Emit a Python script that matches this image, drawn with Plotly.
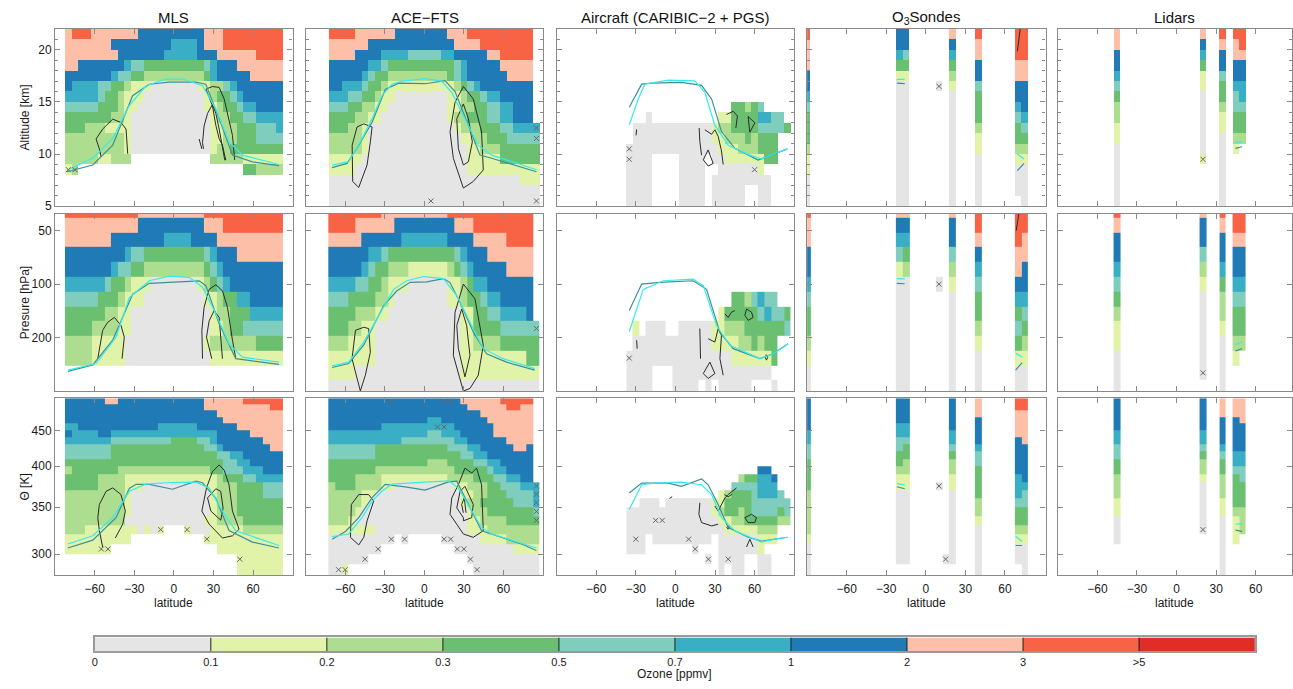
import math
import plotly.graph_objects as go

# ---------------- colour levels ----------------
LEVEL_COLORS = ["#e5e5e5", "#e0f3a8", "#addd8e", "#6abf70", "#7fcdbc",
                "#3aaec4", "#1f7ab5", "#fdbfa7", "#f86245", "#e02d26"]
LEVEL_LABELS = ["0", "0.1", "0.2", "0.3", "0.5", "0.7", "1", "2", "3", ">5"]

# ---------------- grids ----------------
LAT_CENTERS = [-90, -85, -80, -75, -70, -65, -60, -55, -50, -45, -40, -35, -30, -25, -20, -15, -10, -5,
               0, 5, 10, 15, 20, 25, 30, 35, 40, 45, 50, 55, 60, 65, 70, 75, 80, 85, 90]
ALT_EDGES = [5, 6, 7, 8, 9, 10, 11, 12, 13, 14, 15, 16, 17, 18, 19, 20, 21, 22]
THETA_EDGES = [280, 290, 300, 310, 320, 330, 340, 350, 360, 370, 380, 390, 400,
               410, 420, 430, 440, 450, 460, 470, 480, 490, 500]
P_CENTERS = [38.3, 46.4, 56.2, 68.1, 82.5, 100.0, 121.2, 146.8, 177.8, 215.4, 261.0, 316.2, 383.1]

# Run-length rows (top -> bottom): token = level char + count, '.' = no data, 37 lat cells
MLS_ALT = [
    ".2 71 83 77 610 73 89 .2", ".2 77 69 54 61 73 89 .2", ".2 78 67 55 63 76 84 .2",
    ".2 72 67 51 42 39 41 51 63 77 .2", ".2 67 51 42 32 29 31 51 65 75 .2",
    ".2 61 54 42 32 21 13 07 12 22 41 51 67 .2", ".2 55 41 32 21 13 09 11 21 32 41 51 66 .2",
    ".2 45 33 21 12 010 12 21 32 41 52 64 .2", ".2 37 22 11 012 11 22 32 42 54 .2",
    ".2 33 23 14 012 12 22 33 43 51 .2", ".2 29 11 012 12 22 33 44 .2",
    ".2 29 11 012 11 22 38 .2", ".2 25 12 23 .12 25 16 .2", ".2 11 21 .25 32 24 .2",
    ".37", ".37", ".37",
]
MLS_P = [
    ".2 811 710 812 .2", ".2 711 610 73 89 .2", ".2 77 68 54 64 710 .2",
    ".2 69 51 42 39 41 51 63 77 .2", ".2 67 51 42 32 29 31 41 51 69 .2",
    ".2 56 41 32 21 13 07 11 21 31 41 51 68 .2", ".2 45 33 21 13 09 12 21 32 52 65 .2",
    ".2 36 22 12 012 11 22 33 55 .2", ".2 34 24 12 012 12 21 32 46 .2",
    ".2 24 15 012 11 27 34 .2", ".2 24 15 013 111 .2", ".37", ".37",
]
MLS_TH = [
    ".2 66 72 613 76 86 .2", ".2 621 710 82 .2", ".2 623 710 .2", ".2 624 79 .2",
    ".2 52 612 56 66 77 .2", ".2 61 54 62 516 65 75 .2", ".2 57 49 34 42 51 67 73 .2",
    ".2 47 314 42 51 67 72 .2", ".2 47 316 42 52 66 .2", ".2 324 42 52 65 .2",
    ".2 21 37 214 32 43 53 63 .2", ".2 35 24 114 21 33 42 54 .2",
    ".2 35 24 13 09 12 23 34 43 .2", ".2 29 11 012 11 23 34 43 .2",
    ".2 29 11 012 11 23 37 .2", ".2 29 11 012 11 23 37 .2", ".2 29 012 12 24 36 .2",
    ".2 23 18 01 11 01 11 .3 11 03 15 26 .2", ".2 110 .11 112 .2", ".2 17 .16 110 .2",
    ".2 .26 17 .2", ".2 .26 17 .2",
]
ACE_ALT = [
    ".4 84 76 68 73 810 .2", ".4 76 613 74 88 .2", ".4 74 64 54 45 52 65 72 85 .2",
    ".4 66 52 41 310 41 51 65 75 .2", ".4 65 51 41 32 29 31 41 51 66 74 .2",
    ".4 62 53 41 32 21 19 11 21 31 41 51 68 .2", ".4 53 42 32 21 12 08 12 21 32 41 52 65 .2",
    ".4 43 32 22 12 09 12 22 32 42 52 63 .2", ".4 34 22 12 010 11 22 33 42 52 63 .2",
    ".4 33 22 11 013 11 23 33 42 53 51 .1", ".4 25 11 014 12 22 33 45 .1",
    ".4 25 11 015 12 23 36 .1", ".4 15 016 15 36 .1", ".4 14 017 111 .1",
    ".4 029 13 .1", ".4 032 .1", ".4 032 .1",
]
ACE_P = [
    ".4 88 710 813 .2", ".4 84 76 69 73 89 .2", ".4 75 66 57 64 75 84 .2",
    ".4 66 52 41 310 41 51 63 77 .2", ".4 65 51 41 32 23 16 21 31 41 51 65 74 .2",
    ".4 54 42 32 21 13 06 12 21 31 52 67 .2", ".4 43 34 22 11 08 12 21 32 41 52 65 .2",
    ".4 34 23 12 011 12 32 42 54 61 .2", ".4 33 22 12 013 12 34 46 .1",
    ".4 23 14 013 12 24 36 .1", ".4 17 013 110 32 .1", ".4 14 016 112 .1", ".4 032 .1",
]
ACE_TH = [
    ".4 620 76 85 .2", ".4 621 76 82 72 .2", ".4 623 78 .2", ".4 615 52 67 77 .2",
    ".4 68 511 66 76 .2", ".4 515 42 53 65 76 .2", ".4 511 48 52 66 74 .2",
    ".4 47 311 43 52 65 72 61 .2", ".4 47 313 42 52 67 .2", ".4 315 23 34 42 52 65 .2",
    ".4 37 212 35 41 52 64 .2", ".4 34 24 110 24 33 42 52 62 .2",
    ".4 21 33 24 12 09 12 23 32 43 52 51 .1", ".4 25 12 013 12 22 33 44 51 .1",
    ".4 25 11 014 11 22 35 43 51 .1", ".4 24 11 016 11 22 37 41 .1",
    ".4 23 11 017 12 24 35 .1", ".4 17 014 13 28 .1", ".4 010 .1 01 .5 06 14 25 .1",
    ".4 08 .11 09 14 .1", ".4 06 .15 011 .1", ".4 02 11 .19 010 .1",
]
AIR_ALT = [
    ".37", ".37", ".37", ".37", ".37", ".37", ".37",
    ".11 .16 32 21 31 41 .4 .1", ".11 .3 01 .10 12 34 52 42 .1 .1",
    ".11 .1 012 11 22 34 44 31 .1", ".11 .1 012 12 23 31 21 33 .2 .1",
    ".11 014 13 23 33 .2 .1", ".11 04 .4 04 .1 02 16 32 .2 .1",
    ".11 04 .4 04 .2 06 11 .4 .1", ".11 04 .4 04 .1 09 .3 .1",
    ".11 04 .4 04 .1 05 .2 02 .3 .1", ".11 04 .4 04 .1 05 .2 02 .3 .1",
]
AIR_P = [
    ".37", ".37", ".37", ".37", ".37", ".37",
    ".11 .16 32 21 41 51 42 .2 .1", ".11 .14 11 35 41 51 42 31 .1",
    ".11 .1 11 .1 03 .2 05 12 23 36 41 .1", ".11 .1 012 14 22 31 21 32 .2 .1",
    ".11 016 16 31 .2 .1", ".11 04 .3 015 .3 .1", ".11 04 .3 04 .1 01 .1 05 .3 01 .2 .1",
]
AIR_TH = [
    ".37", ".37", ".37", ".37", ".37", ".37", ".37", ".37", ".37", ".37",
    ".11 .20 62 .3 .1", ".11 .17 21 32 52 61 .2 .1", ".11 .16 44 53 .2 .1",
    ".11 .14 11 21 33 41 53 41 .1 .1", ".11 .2 03 .1 07 12 34 46 .1",
    ".11 013 11 21 32 21 31 44 31 41 .1", ".11 014 12 22 35 22 .1",
    ".11 015 11 14 23 .2 .1", ".11 03 .1 09 .1 06 13 .2 .1",
    ".11 03 .7 01 .3 06 11 .4 .1", ".11 .12 01 .1 04 .2 02 .3 .1",
    ".11 .14 01 .1 02 .2 02 .3 .1",
]

# Sparse station columns: lat -> levels top -> bottom
SONDE_ALT = {-90: "87776654333211000", -20: "66531000000000000", -15: "66431000000000000",
             10: ".....0...........", 20: "76532100000000000", 40: "87766433321100000",
             70: "8887766543321000.", 75: "88877666543210000"}
SONDE_P = {-90: "8776654332100", -20: "7654100000000", -15: "7653200000000",
           10: ".....0.......", 20: "7664210000000", 40: "8876543321000",
           70: "8887765343100", 75: "8877665432100"}
SONDE_TH = {-90: "6666655443333222221000", -20: "666655443321100000000.",
            -15: "666655433221100000000.", 10: "............0.........",
            15: "....................0.", 20: "666665543221100000000.",
            40: "7776666544333322100000", 70: "887777666665554332100.",
            75: "8877777666665443321000"}
LIDAR_ALT = {-45: "77665432211000000", 20: "7653110000001....", 35: "87664332110000000",
             45: "877665443321.....", 50: "88766554332......"}
LIDAR_P = {-45: "8766543211000", 20: "766421000000.", 35: "8766532210000",
           45: "88766543321..", 50: "8876654332..."}
LIDAR_TH = {-45: "6666655443322211000...", 20: "666665543221000000....",
            35: "7776666543322211000000", 45: "7776666655433332111...",
            50: "777766665544333222...."}

# ---------------- tropopause lines (lat, value) ----------------
MLS_ALT_CYAN = [(-81, 8.45), (-61.5, 9.6), (-46.4, 11.5), (-33.8, 14.65), (-21.2, 16.55), (-6.1, 17.2),
                (6.5, 17.2), (21.7, 16.55), (31.8, 14.35), (41.8, 11.2), (51.9, 9.9), (79.6, 9.0)]
MLS_ALT_TEAL = [(-81, 8.3), (-61.5, 8.95), (-46.4, 10.85), (-31.3, 15.6), (-18.7, 16.7), (-3.5, 16.9),
                (16.6, 16.9), (24.2, 16.7), (34.3, 13.4), (44.4, 9.9), (59.5, 9.25), (79.6, 8.9)]
MLS_P_CYAN = [(-80.4, 305), (-59, 280), (-43.9, 199), (-33.8, 119), (-18.7, 95.7), (-3.5, 90.2),
              (11.6, 91.6), (21.7, 104), (31.8, 147), (41.8, 217), (51.9, 258), (79.6, 275)]
MLS_P_TEAL = [(-80.4, 310), (-61.5, 285), (-46.4, 207), (-31.3, 114), (-18.7, 99), (1.5, 97.7),
              (19.2, 95.8), (24.2, 102), (34.3, 167), (46.9, 263), (79.6, 283)]
MLS_TH_CYAN = [(-80.4, 310), (-61.5, 318.6), (-46.4, 338), (-33.8, 368.5), (-21.2, 377.4), (-3.5, 379.3),
               (16.6, 379.7), (26.7, 372.6), (36.8, 345.4), (46.9, 323.8), (79.6, 308.5)]
MLS_TH_TEAL = [(-80.4, 306), (-61.5, 314), (-43.9, 338), (-33.8, 372), (-28.7, 377), (-18.7, 377),
               (-1, 371), (16.6, 381), (21.7, 379), (31.8, 360), (41.8, 324), (59.5, 312), (79.6, 306)]
ACE_ALT_CYAN = [(-69.9, 8.95), (-57.3, 9.27), (-47.2, 11.48), (-39.6, 13.38), (-32.1, 15.6), (-24.5, 16.7),
                (-17, 17.0), (0.6, 17.24), (13.2, 17.0), (20.8, 15.9), (30.8, 13.38), (40.9, 10.85),
                (51, 9.9), (85, 8.5)]
ACE_ALT_TEAL = [(-69.9, 8.7), (-58.6, 9.1), (-49.7, 10.85), (-39.6, 13.06), (-29.6, 16.2), (-19.5, 16.8),
                (0.6, 16.75), (15.7, 17.05), (23.3, 16.0), (33.4, 12.75), (42.2, 9.9), (51, 9.6), (85, 8.3)]
ACE_P_CYAN = [(-69.9, 289), (-57.3, 275), (-45.9, 212), (-35.9, 157), (-23.3, 107), (-13.2, 95.7),
              (-0.6, 90.6), (14.5, 93), (24.6, 116), (34.6, 164), (44.7, 231), (59.8, 263), (83.7, 299)]
ACE_P_TEAL = [(-69.9, 295), (-57.3, 280), (-45.9, 220), (-30.8, 132), (-20.8, 109), (-10.7, 97.7),
              (1.9, 97), (14.5, 93), (19.5, 98), (27.1, 127), (37.1, 186), (47.2, 247), (62.3, 275),
              (83.7, 305)]
ACE_TH_CYAN = [(-69.9, 317.6), (-57.3, 320.4), (-47.2, 338), (-39.6, 356.8), (-32.1, 368.5), (-24.5, 377.4),
               (0.6, 379.8), (18.3, 381.4), (25.8, 372.6), (33.4, 353), (43.4, 327.3), (51, 320.4),
               (85, 306)]
ACE_TH_TEAL = [(-69.9, 315), (-59.8, 323), (-49.7, 338), (-39.6, 361), (-29.6, 377), (-14.5, 374),
               (0.6, 370), (18.3, 380), (24.6, 381), (33.4, 353), (43.4, 323.8), (73.6, 310), (85, 303.5)]
AIR_ALT_CYAN = [(-35, 12.82), (-28.2, 15.29), (-23.1, 16.71), (-5.4, 17.09), (14.7, 17.02), (22.3, 15.92),
                (29.9, 12.75), (40, 10.85), (55.1, 9.97), (65.2, 9.52), (75.3, 10.06), (84.9, 10.5)]
AIR_ALT_TEAL = [(-35, 14.5), (-25.6, 16.71), (-18, 16.8), (4.6, 16.88), (19.8, 16.6), (27.4, 15.29),
                (34.9, 12.16), (45, 10.55), (62.7, 9.43), (75.3, 10.06), (84.9, 10.5)]
AIR_P_CYAN = [(-35, 185), (-24.4, 107), (-9.2, 95.7), (13.5, 93.8), (21.1, 102), (31.2, 171),
              (41.2, 221), (64, 263), (74.1, 247), (85.4, 217)]
AIR_P_TEAL = [(-35, 141), (-25.6, 99.9), (-11.8, 97.7), (13.5, 95.7), (23.6, 107), (33.7, 187),
              (43.8, 231), (64, 263), (74.1, 247), (85.4, 217)]
AIR_TH_CYAN = [(-35, 347.3), (-25.6, 376.5), (-15.5, 378.6), (4.6, 379.8), (19.8, 376.5), (27.4, 364.6),
               (34.9, 338), (45, 323.8), (65.2, 312), (75.3, 315), (84.9, 317)]
AIR_TH_TEAL = [(-35, 366.4), (-25.6, 378.6), (-5.4, 378.6), (4.6, 374.5), (19.8, 383.9), (24.8, 376.5),
               (32.4, 353), (40, 327.3), (55.1, 317), (65.2, 313), (75.3, 315), (84.9, 317)]
SONDE_ALT_CYAN = [(-22, 17.15), (-16, 17.2), None, (69.4, 10.0), (74.4, 9.5)]
SONDE_ALT_TEAL = [(-22, 16.8), (-16, 16.75), None, (69.4, 8.42), (74.4, 9.1)]
SONDE_P_CYAN = [(-22, 93), (-16, 93.5), None, (68, 244), (73, 258)]
SONDE_P_TEAL = [(-22, 99), (-16, 99.5), None, (68, 305), (73, 277)]
SONDE_TH_CYAN = [(-22, 377.8), (-16, 376.5), None, (68, 318), (73, 312.6)]
SONDE_TH_TEAL = [(-22, 374.1), (-16, 371.6), None, (68, 308.5), (73, 308.5)]
LIDAR_ALT_CYAN = [(44.6, 11.1), (49.6, 11.2)]
LIDAR_ALT_TEAL = [(44.6, 10.55), (49.6, 10.7)]
LIDAR_P_CYAN = [(44.6, 219), (49.6, 212)]
LIDAR_P_TEAL = [(44.6, 238), (49.6, 231)]
LIDAR_TH_CYAN = [(44.6, 330.8), (49.6, 331.5)]
LIDAR_TH_TEAL = [(44.6, 324.5), (49.6, 323.2)]

# ---------------- black contours ----------------
MLS_ALT_CONT = [
    [(-55.2, 9.75), (-56.5, 10.5), (-59, 11.45), (-54, 12.4), (-46.4, 13.35), (-40.1, 13.03), (-36.3, 12.4),
     (-35.8, 11.13), (-35, 10.03)],
    [(39.3, 9.42), (36.8, 10.85), (34.3, 11.48), (31.8, 12.75), (29.2, 14.65), (24.2, 16.23), (29.2, 16.48),
     (34.3, 16.4), (38.1, 15.29), (41.8, 13.38), (44.4, 11.8), (46.1, 9.42)],
    [(22.4, 10.5), (21.7, 11.1), (22.9, 12.7), (25.5, 13.9), (29.2, 14.75), (31.8, 13.9), (34.3, 12.4),
     (36.3, 10.85), (38.6, 9.4)],
    [(19.1, 11.45), (21.2, 10.5)],
]
MLS_P_CONT = [
    [(-57.7, 263), (-54, 182), (-50.2, 164), (-45.1, 154), (-40.1, 171), (-37.6, 199), (-39.3, 263)],
    [(46.9, 263), (44.4, 207), (40.6, 135), (36.8, 109), (31.8, 100.8), (26.7, 107), (22.9, 135),
     (21.2, 182), (21.7, 263)],
    [(36.8, 263), (35.5, 199), (34.3, 154), (30.5, 141), (26.7, 161), (24.7, 199), (28.7, 263)],
]
MLS_TH_CONT = [
    [(-54, 306.9), (-56.5, 323.8), (-57.7, 338), (-56.5, 353), (-51.4, 368.5), (-46.4, 372.6),
     (-40.1, 364.6), (-36.8, 345.4), (-38.8, 330.9), (-44.4, 316.2)],
    [(34.3, 401.8), (29.2, 393), (24.7, 372.6), (21.2, 345.4), (26.7, 330.9), (36.8, 316.2), (44.4, 318.5),
     (49.4, 325.4), (44.4, 345.4), (41.8, 376.5), (38.1, 395), (34.3, 401.8)],
    [(31.8, 371.6), (25.5, 360.6), (28, 345.4), (35.5, 335.2), (37.3, 349), (35.5, 368.5), (31.8, 371.6)],
]
ACE_ALT_CONT = [
    [(-49.7, 6.8), (-54.3, 7.37), (-54.7, 10.85), (-51, 12.6), (-45.9, 12.9), (-39.6, 12.6), (-40.9, 11.17),
     (-43.4, 8.95), (-49.7, 6.8)],
    [(29.6, 6.74), (22, 9.59), (19.5, 12.12), (23.3, 14.97), (29.6, 16.49), (37.1, 15.29), (43.4, 12.12),
     (44.7, 8.48), (37.1, 7.37), (29.6, 6.74)],
    [(29.6, 8.95), (25.8, 10.53), (24.6, 13.39), (29.6, 14.81), (33.4, 13.39), (36.4, 11.17), (33.4, 9.27),
     (29.6, 8.95)],
]
ACE_P_CONT = [
    [(-48.5, 400), (-54.8, 263), (-52.2, 182), (-45.9, 175), (-42.2, 178), (-40.9, 242), (-44.7, 326),
     (-48.5, 400)],
    [(29.6, 400), (22, 252), (23.3, 144), (29.6, 100), (38.4, 121), (44.7, 221), (40.9, 326), (34.6, 387),
     (29.6, 400)],
    [(30.8, 333), (25.8, 231), (24.6, 171), (28.3, 138), (32.1, 171), (34.6, 252), (30.8, 333)],
]
ACE_TH_CONT = [
    [(-49.7, 309.1), (-56, 316.9), (-55.3, 353), (-49.7, 364.6), (-42.2, 364.6), (-38.4, 356.8),
     (-43.4, 334.5), (-45.9, 316.9), (-49.7, 309.1)],
    [(30.8, 397.6), (25.8, 376.5), (20.8, 360.6), (19.5, 341.7), (29.6, 320.4), (37.1, 316.9), (44.7, 323.8),
     (43.4, 376.5), (39.6, 397.6), (35.9, 391.2), (30.8, 397.6)],
    [(29.6, 338), (24.6, 349), (27.1, 368.5), (30.8, 374.5), (37.1, 353), (35.9, 338), (29.6, 334.5),
     (29.6, 338)],
    [(29.6, 343.5), (28.3, 353), (30.3, 360.6), (31.6, 343.5)],
]
AIR_ALT_CONT = [
    [(-29.4, 12.37), (-29.9, 11.8)],
    [(18, 12.5), (18.5, 11.2), (19.8, 9.9)],
    [(22.3, 12.33), (27.4, 11.9), (29.9, 12.33), (32.4, 11.7), (34.9, 10.3), (36.2, 9.0)],
    [(21.1, 9.45), (24.8, 10.4), (28.6, 9.1), (24.8, 8.85), (21.1, 9.45)],
    [(38.7, 13.8), (43.8, 14.1), (47, 13.65), (45.8, 12.5)],
    [(55.1, 13.6), (60.2, 13.0), (56.4, 12.1), (55.1, 13.6)],
]
AIR_P_CONT = [
    [(-29.4, 207), (-29, 231)],
    [(18.5, 178), (19, 263)],
    [(24.8, 203), (29.9, 212), (32.4, 178), (34.9, 194), (33.7, 263), (36.2, 326)],
    [(21.1, 319), (26.1, 275), (29.9, 319), (24.8, 340), (21.1, 319)],
    [(37.5, 147), (40, 154), (42.5, 144), (45, 141)],
    [(53.9, 138), (57.7, 144), (58.9, 154), (55.2, 160), (52.6, 150), (53.9, 138)],
    [(68, 258), (69, 268), (70, 258), (69, 250), (68, 258)],
]
AIR_TH_CONT = [
    [(-4.5, 360), (-2.5, 362)],
    [(18.5, 354.9), (17.8, 341.7), (19.8, 332.6), (27.4, 329), (32.4, 330.9)],
    [(29.9, 351.2), (32.4, 345.4), (37.5, 360.6), (40, 364.6), (46.3, 372.6)],
    [(37, 364.6), (40, 362), (43, 365)],
    [(52.6, 338), (57.7, 341.7), (61.4, 338), (60.2, 332.6), (55.1, 332.6), (52.6, 338)],
    [(39, 327.3), (40, 329), (41, 327.3), (40, 325.5), (39, 327.3)],
    [(53.9, 307), (56.4, 315), (58.9, 307)],
]
SONDE_ALT_CONT = [[(69.4, 19.87), (71.5, 22)]]
SONDE_P_CONT = [[(68.5, 50), (70.5, 40)]]

# ---------------- 'x' markers (lat, value) ----------------
MLS_ALT_X = [(-80, 8.5), (-75, 8.5)]
MLS_TH_X = [(-55, 305), (-50, 305), (-10, 325), (10, 325), (25, 315), (50, 295)]
ACE_ALT_X = [(5, 5.5), (85, 5.5), (85, 12.5), (85, 11.5)]
ACE_P_X = [(85, 177.8)]
ACE_TH_X = [(-25, 495), (15, 495), (20, 495), (10, 455), (15, 455), (85, 375), (85, 365), (85, 355),
            (85, 345), (85, 335), (-25, 315), (-15, 315), (15, 315), (20, 315), (-35, 305), (25, 305),
            (30, 305), (-45, 295), (35, 295), (-65, 285), (-60, 285), (40, 285)]
AIR_ALT_X = [(-35, 10.5), (-35, 9.5), (60, 8.5)]
AIR_P_X = [(-35, 261)]
AIR_TH_X = [(-30, 315), (-15, 335), (-10, 335), (10, 315), (15, 305), (25, 295), (40, 295)]
SONDE_ALT_X = [(10, 16.5)]
SONDE_P_X = [(10, 100)]
SONDE_TH_X = [(10, 375), (15, 295)]
LIDAR_ALT_X = [(20, 9.5)]
LIDAR_P_X = [(20, 316.2)]
LIDAR_TH_X = [(20, 325)]

COL_TITLES = ["MLS", "ACE\u2212FTS", "Aircraft (CARIBIC\u22122 + PGS)", "O<sub>3</sub>Sondes", "Lidars"]
ROW_TITLES = ["Altitude [km]", "Presure [hPa]", "\u0398 [K]"]
LAT_TICKS = [-60, -30, 0, 30, 60]
LAT_TICKTEXT = ["\u221260", "\u221230", "0", "30", "60"]


# ---------------- helpers ----------------
NLAT = len(LAT_CENTERS)
LAT_EDGES = [c - 2.5 for c in LAT_CENTERS] + [LAT_CENTERS[-1] + 2.5]


def rle(s):
    out = []
    for tok in s.split():
        lv, cnt = tok[0], int(tok[1:])
        out += [None if lv == '.' else int(lv)] * cnt
    out = (out + [None] * NLAT)[:NLAT]
    return out


def rle_grid(rows):
    return [rle(r) for r in rows]


def col_grid(cols, nrows):
    g = [[None] * NLAT for _ in range(nrows)]
    for lat, s in cols.items():
        j = LAT_CENTERS.index(lat)
        for r, ch in enumerate(s[:nrows]):
            g[r][j] = None if ch == '.' else int(ch)
    return g


p_mid = [math.sqrt(P_CENTERS[i] * P_CENTERS[i + 1]) for i in range(len(P_CENTERS) - 1)]
P_EDGES = [P_CENTERS[0] ** 2 / p_mid[0]] + p_mid + [P_CENTERS[-1] ** 2 / p_mid[-1]]


def vertical(row, grid):
    """Return (edges, z) with ascending edges."""
    if row == 0:
        return ALT_EDGES, grid[::-1]
    if row == 1:
        return P_EDGES, grid
    return THETA_EDGES, grid[::-1]


W, H = 1293, 689
COL_PX = [(52.3, 290.3), (303.3, 541.7), (555.0, 792.7), (806.0, 1045.0), (1057.3, 1292.0)]
ROW_PX = [(29.3, 208.3), (215.7, 395.0), (402.3, 581.0)]
PX_PER_DEG = (290.3 - 52.3) / 180.0

colorscale = []
for i, c in enumerate(LEVEL_COLORS):
    colorscale.append([i / 10.0, c])
    colorscale.append([(i + 1) / 10.0, c])

panels = {
    (0, 0): (rle_grid(MLS_ALT), MLS_ALT_CYAN, MLS_ALT_TEAL, MLS_ALT_CONT, MLS_ALT_X),
    (1, 0): (rle_grid(MLS_P), MLS_P_CYAN, MLS_P_TEAL, MLS_P_CONT, []),
    (2, 0): (rle_grid(MLS_TH), MLS_TH_CYAN, MLS_TH_TEAL, MLS_TH_CONT, MLS_TH_X),
    (0, 1): (rle_grid(ACE_ALT), ACE_ALT_CYAN, ACE_ALT_TEAL, ACE_ALT_CONT, ACE_ALT_X),
    (1, 1): (rle_grid(ACE_P), ACE_P_CYAN, ACE_P_TEAL, ACE_P_CONT, ACE_P_X),
    (2, 1): (rle_grid(ACE_TH), ACE_TH_CYAN, ACE_TH_TEAL, ACE_TH_CONT, ACE_TH_X),
    (0, 2): (rle_grid(AIR_ALT), AIR_ALT_CYAN, AIR_ALT_TEAL, AIR_ALT_CONT, AIR_ALT_X),
    (1, 2): (rle_grid(AIR_P), AIR_P_CYAN, AIR_P_TEAL, AIR_P_CONT, AIR_P_X),
    (2, 2): (rle_grid(AIR_TH), AIR_TH_CYAN, AIR_TH_TEAL, AIR_TH_CONT, AIR_TH_X),
    (0, 3): (col_grid(SONDE_ALT, 17), SONDE_ALT_CYAN, SONDE_ALT_TEAL, SONDE_ALT_CONT, SONDE_ALT_X),
    (1, 3): (col_grid(SONDE_P, 13), SONDE_P_CYAN, SONDE_P_TEAL, SONDE_P_CONT, SONDE_P_X),
    (2, 3): (col_grid(SONDE_TH, 22), SONDE_TH_CYAN, SONDE_TH_TEAL, [], SONDE_TH_X),
    (0, 4): (col_grid(LIDAR_ALT, 17), LIDAR_ALT_CYAN, LIDAR_ALT_TEAL, [], LIDAR_ALT_X),
    (1, 4): (col_grid(LIDAR_P, 13), LIDAR_P_CYAN, LIDAR_P_TEAL, [], LIDAR_P_X),
    (2, 4): (col_grid(LIDAR_TH, 22), LIDAR_TH_CYAN, LIDAR_TH_TEAL, [], LIDAR_TH_X),
}


def split_xy(pts):
    xs, ys = [], []
    for p in pts:
        if p is None:
            xs.append(None)
            ys.append(None)
        else:
            xs.append(p[0])
            ys.append(p[1])
    return xs, ys


FONT = "Liberation Sans, Arial, Helvetica, sans-serif"
AX_COL = "#8a8a8a"
fig = go.Figure()
layout = dict(width=W, height=H, margin=dict(l=0, r=0, t=0, b=0), autosize=False,
              paper_bgcolor="white", plot_bgcolor="white", showlegend=False,
              font=dict(family=FONT, size=12, color="#1a1a1a"))
annotations = []

for (r, c), (grid, cyan, teal, conts, xs_) in panels.items():
    idx = r * 5 + c + 1
    xa, ya = "x%d" % idx, "y%d" % idx
    edges, z = vertical(r, grid)
    fig.add_trace(go.Heatmap(x=LAT_EDGES, y=edges, z=z, colorscale=colorscale, zmin=-0.5, zmax=9.5,
                             showscale=False, hoverinfo="skip", xaxis=xa, yaxis=ya))
    for cont in conts:
        cx, cy = split_xy(cont)
        fig.add_trace(go.Scatter(x=cx, y=cy, mode="lines", line=dict(color="#2b2b2b", width=1),
                                 hoverinfo="skip", xaxis=xa, yaxis=ya))
    tx, ty = split_xy(teal)
    fig.add_trace(go.Scatter(x=tx, y=ty, mode="lines", line=dict(color="#3f8e96", width=1.2),
                             hoverinfo="skip", xaxis=xa, yaxis=ya, connectgaps=False))
    cx, cy = split_xy(cyan)
    fig.add_trace(go.Scatter(x=cx, y=cy, mode="lines", line=dict(color="#35ecec", width=1.2),
                             hoverinfo="skip", xaxis=xa, yaxis=ya, connectgaps=False))
    if xs_:
        mx, my = split_xy(xs_)
        fig.add_trace(go.Scatter(x=mx, y=my, mode="markers",
                                 marker=dict(symbol="x-thin", size=5, line=dict(width=1, color="#666")),
                                 hoverinfo="skip", xaxis=xa, yaxis=ya))

    x0, x1 = COL_PX[c]
    y0, y1 = ROW_PX[r]
    xmax = -90 + (x1 - x0) / PX_PER_DEG
    xaxis = dict(domain=[x0 / W, x1 / W], range=[-90, xmax], anchor=ya,
                 showline=True, linecolor=AX_COL, linewidth=1.3, mirror="ticks",
                 ticks="inside", ticklen=5, tickcolor=AX_COL, tickwidth=1,
                 tickvals=LAT_TICKS, ticktext=LAT_TICKTEXT,
                 showticklabels=(r == 2), showgrid=False, zeroline=False,
                 tickfont=dict(size=12, family=FONT, color="#1a1a1a"))
    if r == 2:
        xaxis["ticklabelstandoff"] = 2
    yaxis = dict(domain=[1 - y1 / H, 1 - y0 / H], anchor=xa,
                 showline=True, linecolor=AX_COL, linewidth=1.3, mirror="ticks",
                 ticks="inside", ticklen=5, tickcolor=AX_COL, tickwidth=1,
                 showticklabels=(c == 0), showgrid=False, zeroline=False,
                 tickfont=dict(size=12, family=FONT, color="#1a1a1a"))
    if r == 0:
        yaxis.update(range=[5, 22], tick0=0, dtick=5,
                     minor=dict(ticks="inside", dtick=1, tick0=0, ticklen=3, tickcolor=AX_COL,
                                showgrid=False))
    elif r == 1:
        yaxis.update(type="log", range=[math.log10(400), math.log10(40)],
                     tickvals=[50, 100, 200], ticktext=["50", "100", "200"])
    else:
        yaxis.update(type="log", range=[math.log10(280), math.log10(500)],
                     tickvals=[300, 350, 400, 450], ticktext=["300", "350", "400", "450"])
    layout["xaxis%d" % idx] = xaxis
    layout["yaxis%d" % idx] = yaxis

# column titles and axis titles
for c, t in enumerate(COL_TITLES):
    x0, x1 = COL_PX[c]
    annotations.append(dict(text=t, x=(x0 + x1) / 2 / W, y=1 - 18 / H, xref="paper", yref="paper",
                            showarrow=False, xanchor="center", yanchor="middle",
                            font=dict(size=15, family=FONT, color="#111")))
    annotations.append(dict(text="latitude", x=(x0 + x1) / 2 / W, y=1 - 600 / H, xref="paper",
                            yref="paper", showarrow=False, xanchor="center", yanchor="top",
                            font=dict(size=12, family=FONT, color="#1a1a1a")))
for r, t in enumerate(ROW_TITLES):
    y0, y1 = ROW_PX[r]
    annotations.append(dict(text=t, x=22 / W, y=1 - (y0 + y1) / 2 / H, xref="paper", yref="paper",
                            showarrow=False, xanchor="center", yanchor="middle", textangle=-90,
                            font=dict(size=12, family=FONT, color="#1a1a1a")))

# colour bar as its own axis
CB = 16
fig.add_trace(go.Heatmap(x=list(range(11)), y=[0, 1], z=[list(range(10))], colorscale=colorscale,
                         zmin=-0.5, zmax=9.5, showscale=False, hoverinfo="skip",
                         xaxis="x%d" % CB, yaxis="y%d" % CB))
layout["xaxis%d" % CB] = dict(domain=[92 / W, 1255 / W], range=[0, 10], anchor="y%d" % CB,
                              tickvals=list(range(10)), ticktext=LEVEL_LABELS, ticks="",
                              showline=True, linecolor="#9a9a9a", linewidth=1.5, mirror=True,
                              showgrid=False, zeroline=False,
                              tickfont=dict(size=11, family="Liberation Sans Narrow, " + FONT,
                                            color="#1a1a1a"))
layout["yaxis%d" % CB] = dict(domain=[1 - 658 / H, 1 - 644 / H], range=[0, 1], anchor="x%d" % CB,
                              showticklabels=False, ticks="", showline=True, linecolor="#9a9a9a",
                              linewidth=1.5, mirror=True, showgrid=False, zeroline=False)
shapes = []
for b in range(1, 10):
    shapes.append(dict(type="line", xref="x%d" % CB, yref="y%d" % CB, x0=b, x1=b, y0=0, y1=1,
                       line=dict(color="#222", width=1), layer="above"))
annotations.append(dict(text="Ozone [ppmv]", x=673.5 / W, y=1 - 681 / H, xref="paper", yref="paper",
                        showarrow=False, xanchor="center", yanchor="middle",
                        font=dict(size=12, family=FONT, color="#1a1a1a")))

layout["annotations"] = annotations
layout["shapes"] = shapes
fig.update_layout(**layout)
fig.write_html("out.html")
